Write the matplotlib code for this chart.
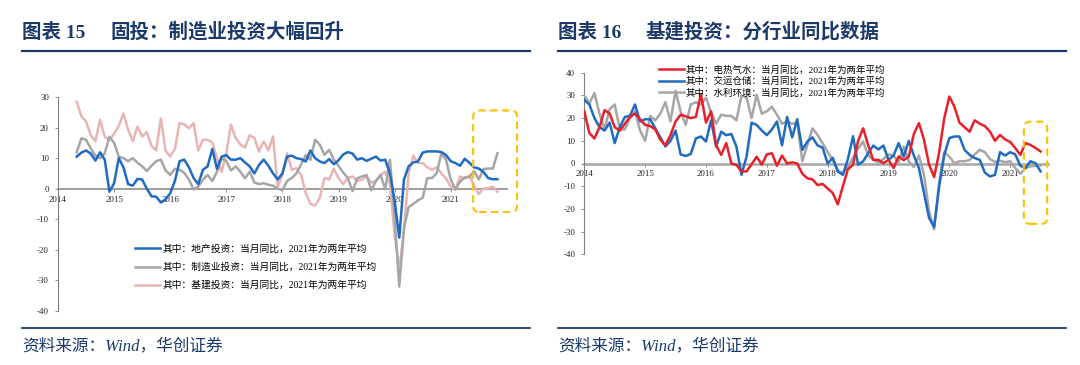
import matplotlib
matplotlib.use('Agg')
import matplotlib.pyplot as plt
from matplotlib.lines import Line2D
from matplotlib.patches import FancyBboxPatch
from matplotlib.transforms import IdentityTransform
from matplotlib.font_manager import FontProperties

plt.rcParams['font.family'] = ['Liberation Serif', 'Noto Sans CJK SC', 'DejaVu Sans']
plt.rcParams['axes.unicode_minus'] = False

# ---------------- data ----------------
years = ['2014', '2015', '2016', '2017', '2018', '2019', '2020', '2021']

# Left chart: monthly, first value = May 2014 (month index 4 from Jan 2014)
left_start = 4
realestate = [10.5, 11.8, 12.5, 11.5, 9.2, 11.9, 9.5, -1.0, 1.8, 10.0,
              7.0, 1.5, 1.0, 3.2, 3.0, 0.0, -2.5, -2.6, -4.5, -3.5,
              -1.5, 2.5, 9.0, 9.5, 7.0, 3.5, 1.5, 6.2, 7.3, 13.0,
              6.5, 10.5, 11.0, 9.5, 9.5, 10.0, 8.6, 7.3, 5.0, 7.8,
              9.5, 7.5, 5.0, 3.0, 5.0, 10.5, 10.8, 10.0, 9.7, 8.9,
              12.5, 10.0, 8.9, 8.4, 9.7, 8.0, 9.3, 11.2, 12.0, 11.5,
              9.5, 10.0, 9.1, 9.8, 10.5, 9.2, 9.5, 5.0, -4.0, -16.0,
              3.0, 7.3, 8.6, 8.9, 11.8, 12.2, 12.2, 12.2, 12.0, 11.0,
              9.0, 8.4, 7.5, 9.8, 8.5, 7.0, 6.6, 5.5, 3.5, 3.1, 3.1]
manufacturing = [11.9, 16.5, 16.0, 13.2, 10.8, 10.0, 11.6, 17.0, 15.0, 10.5,
                 10.0, 9.0, 10.0, 8.5, 7.3, 5.8, 7.5, 9.0, 9.5, 6.0,
                 4.5, 6.5, 6.2, 5.2, 3.0, -0.2, 0.7, 2.9, 4.5, 2.5,
                 5.5, 10.0, 9.0, 6.0, 7.3, 5.6, 3.4, 5.6, 2.0, 1.5,
                 1.8, 1.3, 1.0, 0.0, -0.5, 2.5, 3.5, 5.0, 8.0, 11.0,
                 9.5, 16.0, 14.4, 11.1, 12.7, 9.5, 7.5, 5.3, 3.5, -0.8,
                 3.4, 4.0, 4.5, -0.5, 2.5, 4.5, -0.2, 9.5, -9.0, -32.0,
                 -13.0, -6.0, -5.0, -3.8, -3.0, 3.5, 3.5, 5.0, 11.5, 9.5,
                 3.0, -0.2, 2.3, 3.7, 3.8, 5.8, 3.0, 6.4, 6.6, 6.6, 11.6]
infrastructure = [28.4, 23.7, 22.0, 17.5, 15.5, 22.5, 17.0, 16.0, 18.0, 20.5,
                  24.6, 19.3, 15.5, 20.3, 17.1, 18.5, 14.0, 12.5, 23.0, 12.5,
                  10.5, 13.0, 21.5, 21.0, 19.8, 21.5, 12.5, 16.0, 16.0, 15.2,
                  10.0, 5.5, 11.6, 21.0, 16.6, 14.5, 13.5, 17.5, 16.6, 12.2,
                  15.5, 12.5, 17.1, 0.5, 4.5, 11.6, 6.2, 6.7, 4.5, -1.5,
                  -5.0, -5.5, -3.0, 3.5, 3.0, 6.5, 3.5, 1.5, 3.5, 4.0,
                  2.5, 2.9, 4.0, 2.0, 2.5, 4.5, 5.6, 1.5, -15.0, -26.5,
                  -13.6, 5.0, 10.8, 8.4, 8.4, 7.0, 6.2, 7.0, 5.0, 3.4,
                  0.7, -0.4, 4.0, 3.3, 4.3, 1.0, -1.8, 0.1, 0.1, 0.7, -1.0]
left_labels = ['其中：地产投资：当月同比，2021年为两年平均',
               '其中：制造业投资：当月同比，2021年为两年平均',
               '其中：基建投资：当月同比，2021年为两年平均']

# Right chart: monthly, first value = Jan 2014
right_start = 0
utilities = [23.0, 13.4, 11.0, 16.0, 23.5, 22.0, 16.0, 14.5, 17.5, 20.5,
             22.0, 19.5, 17.0, 16.5, 15.0, 10.5, 8.0, 12.5, 18.5, 21.5,
             20.8, 20.0, 20.5, 30.5, 18.0, 23.0, 8.0, 3.8, 9.0, 0.0,
             -0.6, -3.5, -3.5, -0.3, 3.0, -0.5, 4.0, 4.5, -1.0, 3.5,
             0.0, 0.5, 0.0, -4.5, -6.5, -7.0, -9.5, -9.0, -11.0, -13.0,
             -18.0, -10.0, -2.5, -0.6, 10.0, 15.5, 8.0, 1.6, 1.6, 0.1,
             1.6, -2.0, 3.1, 1.5, 3.0, 13.0, 17.8, 10.5, -0.5, -6.0,
             5.0, 20.0, 29.5, 25.0, 18.0, 16.0, 14.0, 19.0, 17.5, 16.5,
             14.1, 10.0, 12.6, 10.6, 9.5, 6.8, 3.8, 9.0, 8.2, 6.8, 5.3]
transport = [28.0, 26.0, 20.0, 16.0, 14.5, 18.0, 9.0, 16.0, 20.5, 21.0,
             26.0, 18.5, 19.5, 19.5, 15.5, 11.5, 7.5, 10.0, 14.5, 4.0,
             3.3, 4.2, 11.0, 11.9, 9.7, 19.0, 7.5, 14.0, 12.5, 13.0,
             7.5, -5.0, 3.0, 18.0, 17.0, 14.5, 12.5, 15.0, 18.5, 8.0,
             20.5, 11.5, 19.5, 6.0, 9.7, 11.5, 8.0, 7.0, 0.0, 2.5,
             -3.5, -5.0, 2.0, 12.0, -0.5, 1.0, 4.5, 7.9, 6.2, 7.9,
             1.6, 3.5, 9.0, 3.0, 10.0, 3.5, -2.0, -13.0, -24.0, -28.0,
             -10.0, 3.8, 11.2, 11.9, 11.9, 6.0, 3.8, 2.4, 1.6, -4.0,
             -5.7, -5.0, 5.0, 3.5, 5.0, 4.0, -1.0, -2.0, 1.0, 0.1, -3.5]
water_env = [30.0, 26.5, 31.0, 22.0, 15.0, 24.0, 26.0, 15.0, 15.0, 20.0,
             22.9, 14.5, 10.0, 21.0, 19.0, 22.0, 27.0, 18.5, 32.0, 22.9,
             17.0, 26.0, 27.0, 26.0, 29.0, 22.5, 17.5, 21.5, 21.0, 21.0,
             19.0, 30.0, 29.0, 20.0, 30.3, 22.0, 23.0, 25.0, 21.5, 17.5,
             18.5, 17.5, 18.0, 1.0, 8.2, 15.5, 12.6, 9.0, 5.0, 1.5,
             -3.0, -4.3, -1.5, 2.5, 6.5, 9.7, 3.5, 1.6, 0.5, 2.0,
             4.0, 3.5, 0.5, 7.5, 0.9, -1.5, 3.5, -5.0, -21.0, -29.0,
             -8.0, 5.0, 3.0, 0.1, 1.0, 1.0, 1.5, 4.0, 6.0, 5.0,
             2.0, 0.7, 1.2, 0.6, 1.0, -2.0, -4.5, -2.0, -1.3, -1.0, -0.9]
right_labels = ['其中：电热气水：当月同比，2021年为两年平均',
                '其中：交运仓储：当月同比，2021年为两年平均',
                '其中：水利环境：当月同比，2021年为两年平均']

# highlight boxes (months, values)
left_box = (88.8, 98.2, -7.6, 25.6)
right_box = (86.7, 91.3, -26.6, 18.4)

# ---------------- styling ----------------
NAVY = '#1B3A6B'
BLUE = '#1F6BC1'
GRAY = '#A6A6A6'
PINK = '#E8B4B4'
RED = '#E8202A'
GOLD = '#FFC000'
CJK = ['Liberation Serif', 'Noto Sans CJK SC', 'DejaVu Sans']

W, H = 1080, 365
fig = plt.figure(figsize=(W / 100, H / 100), dpi=100)
fig.patch.set_facecolor('white')


def fx(px):
    return px / W


def fy(py):
    return 1 - py / H


def style_axes(ax, ylo, yhi, zero_lw, zero_color):
    ax.set_ylim(ylo, yhi)
    ax.set_yticks(range(ylo, yhi + 1, 10))
    ax.set_yticklabels([str(v) for v in range(ylo, yhi + 1, 10)])
    ax.set_xticks([12 * i for i in range(len(years))])
    ax.set_xticklabels(years)
    for s in ('top', 'right'):
        ax.spines[s].set_visible(False)
    ax.spines['left'].set_color('#808080')
    ax.spines['left'].set_linewidth(0.8)
    ax.spines['bottom'].set_position(('data', 0))
    ax.spines['bottom'].set_color(zero_color)
    ax.spines['bottom'].set_linewidth(zero_lw)
    ax.spines['bottom'].set_zorder(1)
    ax.tick_params(axis='y', direction='out', length=2.5, width=0.6,
                   color='#808080', labelsize=6.4, pad=4, labelcolor='#222222')
    ax.tick_params(axis='x', direction='out', length=2, width=0.6,
                   color='#808080', labelsize=6.4, pad=3, labelcolor='#222222')
    ax.set_facecolor('none')


# ---------------- left chart ----------------
axL = fig.add_axes([fx(58), fy(311), fx(506.8) - fx(58), fy(97) - fy(311)])
xl = [left_start + i for i in range(len(realestate))]
l3, = axL.plot(xl, infrastructure, color=PINK, lw=1.8, solid_joinstyle='round', zorder=3)
l2, = axL.plot(xl, manufacturing, color=GRAY, lw=1.8, solid_joinstyle='round', zorder=4)
l1, = axL.plot(xl, realestate, color=BLUE, lw=1.8, solid_joinstyle='round', zorder=5)
axL.set_xlim(0, 96)
style_axes(axL, -40, 30, 1.2, '#8C8C8C')
legL = axL.legend([l1, l2, l3], left_labels, loc='upper left',
                  bbox_to_anchor=(fx(135), fy(244.5)), bbox_transform=fig.transFigure,
                  frameon=False, prop=FontProperties(family=CJK, size=7),
                  handlelength=2.6, handletextpad=0.25, labelspacing=0.9,
                  borderpad=0, borderaxespad=0)

# ---------------- right chart ----------------
axR = fig.add_axes([fx(584.3), fy(254.3), 91.5 * 5.07 / W, fy(72.7) - fy(254.3)])
xr = [right_start + i for i in range(len(utilities))]
r3, = axR.plot(xr, water_env, color=GRAY, lw=1.8, solid_joinstyle='round', zorder=3)
r2, = axR.plot(xr, transport, color=BLUE, lw=1.8, solid_joinstyle='round', zorder=4)
r1, = axR.plot(xr, utilities, color=RED, lw=1.8, solid_joinstyle='round', zorder=5)
axR.set_xlim(0, 91.5)
style_axes(axR, -40, 40, 1.8, '#A6A6A6')
legR = axR.legend([r1, r2, r3], right_labels, loc='upper left',
                  bbox_to_anchor=(fx(659), fy(65.5)), bbox_transform=fig.transFigure,
                  frameon=False, prop=FontProperties(family=CJK, size=6.8),
                  handlelength=2.6, handletextpad=0.2, labelspacing=0.22,
                  borderpad=0, borderaxespad=0)
legR.set_zorder(10)

# ---------------- highlight boxes ----------------
for ax, (x0, x1, y0, y1) in ((axL, left_box), (axR, right_box)):
    (px0, py0), (px1, py1) = ax.transData.transform([(x0, y0), (x1, y1)])
    box = FancyBboxPatch((px0, py0), px1 - px0, py1 - py0,
                         boxstyle='round,pad=0,rounding_size=6',
                         transform=IdentityTransform(), fill=False,
                         edgecolor=GOLD, lw=1.5, linestyle=(0, (3.5, 2.2)), zorder=20)
    fig.add_artist(box)

# ---------------- titles, rules, sources ----------------
panels = [(22, 530, '图表 15', '固投：制造业投资大幅回升', 110),
          (558, 1066, '图表 16', '基建投资：分行业同比数据', 646)]
for x0, x1, tag, title, tx in panels:
    fig.text(fx(x0), fy(32), tag, fontsize=14, fontweight='bold', color=NAVY,
             va='center', ha='left', family=CJK)
    fig.text(fx(tx), fy(32), title, fontsize=14, fontweight='bold', color=NAVY,
             va='center', ha='left', family=CJK)
    fig.add_artist(Line2D([fx(x0), fx(x1)], [fy(51), fy(51)], transform=fig.transFigure,
                          color=NAVY, lw=1.6))
    fig.add_artist(Line2D([fx(x0), fx(x1)], [fy(328), fy(328)], transform=fig.transFigure,
                          color=NAVY, lw=1.3))
    fig.text(fx(x0), fy(346), '资料来源：Wind，华创证券', fontsize=12, style='italic',
             color=NAVY, va='center', ha='left', family=CJK)

fig.savefig('out.png', dpi=100, facecolor='white')
